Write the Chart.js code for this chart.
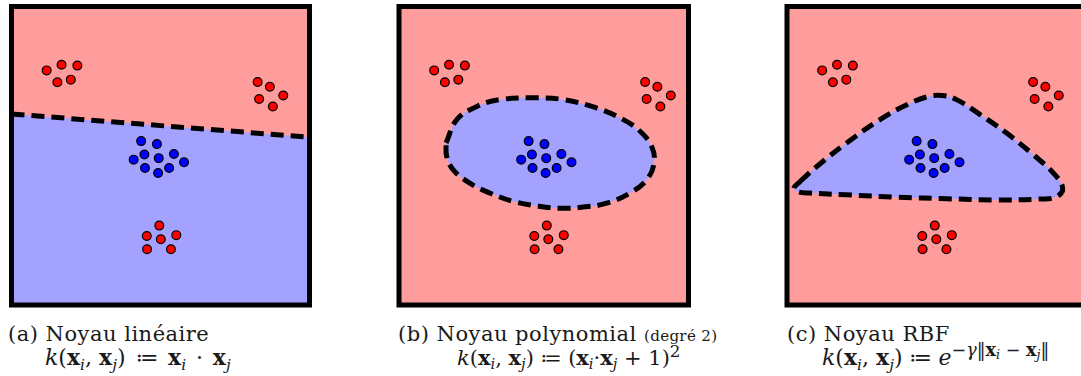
<!DOCTYPE html>
<html lang="fr">
<head>
<meta charset="utf-8">
<script src="https://cdn.jsdelivr.net/npm/chart.js@4.4.0/dist/chart.umd.min.js"></script>
<style>
  html, body { margin: 0; padding: 0; background: #fff; overflow: hidden; }
  body { width: 1081px; height: 376px; position: relative; }
  canvas { position: absolute; top: 0; }
  .cap { position: absolute; font-family: 'DejaVu Serif', serif; font-size: 21px; color: #1a1a1a; white-space: nowrap; line-height: 1; }
  .title { letter-spacing: 0.5px; }
  .formula { font-size: 22px; }
  .cap i { font-style: italic; }
  .cap b { font-weight: bold; }
  .op { margin: 0 0.3em; }
  .wide { margin: 0 0.45em; }
  .sub { font-size: 0.7em; position: relative; top: 0.3em; font-style: italic; }
  .sup { font-size: 0.8em; position: relative; top: -0.5em; }
  .sup .sub { font-size: 0.72em; top: 0.25em; }
  .small { font-size: 0.72em; letter-spacing: 0.3px; }
</style>
</head>
<body>
<canvas id="panelA" width="330" height="312" style="left:0px"></canvas>
<canvas id="panelB" width="320" height="312" style="left:388px"></canvas>
<canvas id="panelC" width="330" height="312" style="left:776px"></canvas>

<div class="cap title" style="left:8px; top:324px">(a) Noyau linéaire</div>
<div class="cap formula" style="left:45px; top:346px"><i>k</i>(<b>x</b><span class="sub">i</span>, <b>x</b><span class="sub">j</span>)<span class="wide">≔</span><b>x</b><span class="sub">i</span><span class="wide">·</span><b>x</b><span class="sub">j</span></div>

<div class="cap title" style="left:398px; top:324px">(b) Noyau polynomial <span class="small">(degré 2)</span></div>
<div class="cap" style="left:457px; top:347px"><i>k</i>(<b>x</b><span class="sub">i</span>, <b>x</b><span class="sub">j</span>)<span class="op">≔</span>(<b>x</b><span class="sub">i</span>·<b>x</b><span class="sub">j</span> + 1)<span class="sup">2</span></div>

<div class="cap title" style="left:787px; top:324px">(c) Noyau RBF</div>
<div class="cap formula" style="left:822px; top:346px"><i>k</i>(<b>x</b><span class="sub">i</span>, <b>x</b><span class="sub">j</span>)<span class="op">≔</span><i>e</i><span class="sup">−<i>γ</i>‖<b>x</b><span class="sub">i</span> − <b>x</b><span class="sub">j</span>‖</span></div>

<script>
// Same training points in every panel (x, y in 0..100 units)
const redX = [11.8, 16.8, 22.1, 15.4, 19.9, 82.6, 86.7, 91.2, 83.1, 87.7, 49.6, 45.4, 50.1, 55.3, 45.5, 53.5];
const redY = [78.6, 80.5, 80.2, 74.6, 75.5, 74.7, 73.1, 70.2, 69.0, 66.5, 26.6, 23.1, 22.0, 23.4, 18.7, 18.7];
const blueX = [43.5, 48.8, 41.0, 44.6, 49.4, 54.5, 57.9, 44.8, 49.2, 52.9];
const blueY = [54.9, 53.9, 48.7, 50.4, 49.2, 50.6, 47.8, 45.9, 44.2, 45.9];

// Decision boundaries
const linearX = [0, 100];
const linearY = [64.0, 56.2];

const polyX = [15.8, 19.4, 26.1, 33.9, 46.7, 55.1, 66.3, 75.3, 80.9, 84.8, 85.6, 83.1, 77.5, 69.7, 61.8, 54.0, 46.2, 38.4, 30.5, 23.8, 18.2, 16.0, 15.8];
const polyY = [54.3, 62.1, 66.5, 68.8, 69.4, 68.8, 66.0, 62.1, 58.2, 53.1, 47.6, 41.9, 37.5, 34.1, 32.8, 32.4, 33.2, 34.7, 37.5, 40.8, 45.3, 49.8, 54.3];

const rbfX = [4.4, 10.0, 20.0, 31.2, 40.2, 46.9, 51.9, 56.9, 64.8, 73.7, 82.7, 89.4, 92.5, 90.5, 84.9, 70.4, 53.6, 36.8, 20.0, 7.7, 3.3, 2.3, 4.4];
const rbfY = [41.4, 46.4, 54.3, 62.1, 67.1, 69.7, 70.2, 68.8, 63.8, 57.6, 50.3, 44.2, 39.2, 36.3, 35.5, 35.2, 35.6, 36.1, 36.9, 37.5, 38.0, 39.2, 41.4];

const RED_AREA = '#ff9d9d';
const BLUE_AREA = '#a3a3ff';

function toPoints(xs, ys) {
  return xs.map((x, i) => ({ x: x, y: ys[i] }));
}

// paints the class area behind everything and the black frame on top
const framePlugin = {
  id: 'frame',
  beforeDatasetsDraw(chart) {
    const { ctx, chartArea } = chart;
    ctx.save();
    ctx.fillStyle = RED_AREA;
    ctx.fillRect(chartArea.left, chartArea.top, chartArea.width, chartArea.height);
    ctx.restore();
  },
  afterDraw(chart) {
    const { ctx, chartArea } = chart;
    ctx.save();
    ctx.strokeStyle = '#000';
    ctx.lineWidth = 5;
    ctx.strokeRect(chartArea.left, chartArea.top, chartArea.width, chartArea.height);
    ctx.restore();
  }
};

function makePanel(canvasId, boundaryX, boundaryY, fillMode, xMax, padding) {
  return new Chart(document.getElementById(canvasId), {
    type: 'line',
    data: {
      datasets: [
        {
          label: 'rouge',
          data: toPoints(redX, redY),
          showLine: false,
          pointRadius: 4.4,
          pointBackgroundColor: '#ff0000',
          pointBorderColor: '#000',
          pointBorderWidth: 1.2
        },
        {
          label: 'bleu',
          data: toPoints(blueX, blueY),
          showLine: false,
          pointRadius: 4.4,
          pointBackgroundColor: '#0000ff',
          pointBorderColor: '#000',
          pointBorderWidth: 1.2
        },
        {
          label: 'frontière',
          data: toPoints(boundaryX, boundaryY),
          borderColor: '#000',
          borderWidth: 5,
          borderDash: [13, 7],
          borderCapStyle: 'butt',
          borderJoinStyle: 'round',
          backgroundColor: BLUE_AREA,
          fill: fillMode,
          tension: fillMode === 'shape' ? 0.4 : 0,
          pointRadius: 0
        }
      ]
    },
    options: {
      responsive: false,
      animation: false,
      layout: { padding: padding },
      plugins: { legend: { display: false }, tooltip: { enabled: false } },
      scales: {
        x: { type: 'linear', min: 0, max: xMax, display: false },
        y: { type: 'linear', min: 0, max: 100, display: false }
      }
    },
    plugins: [framePlugin]
  });
}

makePanel('panelA', linearX, linearY, 'start', 100, { left: 11.5, top: 6.5, right: 20.5, bottom: 7 });
makePanel('panelB', polyX, polyY, 'shape', 97.15, { left: 11, top: 6.5, right: 19.5, bottom: 7 });
makePanel('panelC', rbfX, rbfY, 'shape', 100, { left: 11, top: 6.5, right: 21, bottom: 7 });
</script>
</body>
</html>
